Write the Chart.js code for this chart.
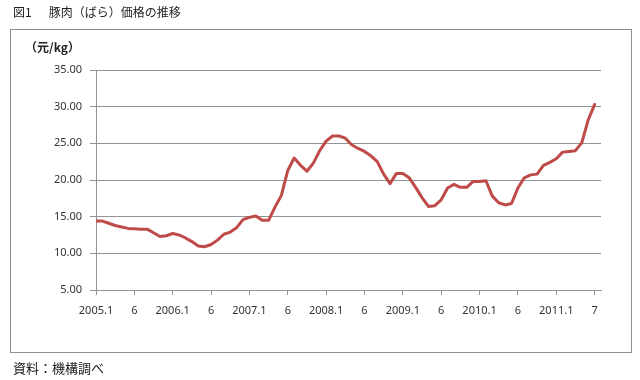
<!DOCTYPE html>
<html><head><meta charset="utf-8">
<script src="https://cdn.jsdelivr.net/npm/chart.js@4.4.1/dist/chart.umd.min.js"></script>
<style>
html,body{margin:0;padding:0;background:#fff;}
#wrap{position:relative;width:640px;height:380px;overflow:hidden;font-family:"Noto Sans CJK JP","Noto Sans",sans-serif;color:#222;}
#box{position:absolute;left:10px;top:29px;width:620px;height:322px;border:1px solid #8f8f8f;}
#c{position:absolute;left:0;top:0;}
#title{position:absolute;left:13px;top:3px;font-size:12px;line-height:18px;white-space:nowrap;}
#title span{margin-left:17px;}
#unit{position:absolute;left:25px;top:38px;font-size:12px;font-weight:bold;line-height:18px;white-space:nowrap;}
#src{position:absolute;left:13px;top:359px;font-size:13px;line-height:18px;white-space:nowrap;}
</style></head>
<body>
<div id="wrap">
<div id="box"></div>
<canvas id="c" width="640" height="380"></canvas>
<div id="title">図1<span>豚肉（ばら）価格の推移</span></div>
<div id="unit">（元/kg）</div>
<div id="src">資料：機構調べ</div>
</div>
<script>
// Monthly pork belly price (yuan/kg), 2005.1 - 2011.7
const prices2005 = [14.4,14.4,14.1,13.8,13.6,13.4,13.35,13.3,13.3,12.8,12.3,12.4];
const prices2006 = [12.7,12.5,12.1,11.6,11.0,10.9,11.2,11.8,12.6,12.9,13.5,14.6];
const prices2007 = [14.9,15.1,14.5,14.5,16.3,17.9,21.3,23.0,22.0,21.2,22.3,24.0];
const prices2008 = [25.3,26.0,26.0,25.7,24.8,24.3,23.9,23.3,22.5,20.8,19.5,20.9];
const prices2009 = [20.9,20.3,19.0,17.6,16.4,16.5,17.3,18.9,19.4,19.0,19.0,19.8];
const prices2010 = [19.8,19.9,17.8,16.9,16.6,16.8,18.9,20.3,20.7,20.8,22.0,22.4];
const prices2011 = [22.9,23.8,23.9,24.0,25.1,28.2,30.3];
const prices = [].concat(prices2005,prices2006,prices2007,prices2008,prices2009,prices2010,prices2011);

const xTickPositions = [0,6,12,18,24,30,36,42,48,54,60,66,72,78];
const xTickLabels = ["2005.1","6","2006.1","6","2007.1","6","2008.1","6","2009.1","6","2010.1","6","2011.1","7"];
const yTickValues = [5,10,15,20,25,30,35];

const axisColor = '#939393';
const tickFont = {family:'"Noto Sans","DejaVu Sans",sans-serif', size:11};

new Chart(document.getElementById('c').getContext('2d'), {
  type: 'line',
  data: {
    datasets: [{
      data: prices.map((v,i)=>({x:i, y:v})),
      borderColor: '#BE4B48',
      borderWidth: 3,
      pointRadius: 0,
      tension: 0,
      fill: false,
      borderJoinStyle: 'round',
      borderCapStyle: 'round'
    }]
  },
  options: {
    responsive: false,
    animation: false,
    layout: {padding: {left: 0, top: 70, right: 39, bottom: 0}},
    plugins: {legend: {display: false}, tooltip: {enabled: false}},
    scales: {
      x: {
        type: 'linear', min: 0, max: 79,
        afterBuildTicks: s => { s.ticks = xTickPositions.map(v => ({value: v})); },
        afterFit: s => { s.height = 90; },
        grid: {drawOnChartArea: false, drawTicks: true, tickLength: 5, color: axisColor},
        border: {display: true, color: axisColor},
        ticks: {autoSkip: false, maxRotation: 0, minRotation: 0, padding: 9, color: '#333', font: tickFont,
          callback: (v, i) => xTickLabels[i]}
      },
      y: {
        min: 5, max: 35,
        afterBuildTicks: s => { s.ticks = yTickValues.map(v => ({value: v})); },
        afterFit: s => { s.width = 96; },
        grid: {color: axisColor, tickLength: 6},
        border: {display: true, color: axisColor},
        ticks: {padding: 8, color: '#333', font: tickFont, callback: v => Number(v).toFixed(2)}
      }
    }
  }
});
</script>
</body></html>
